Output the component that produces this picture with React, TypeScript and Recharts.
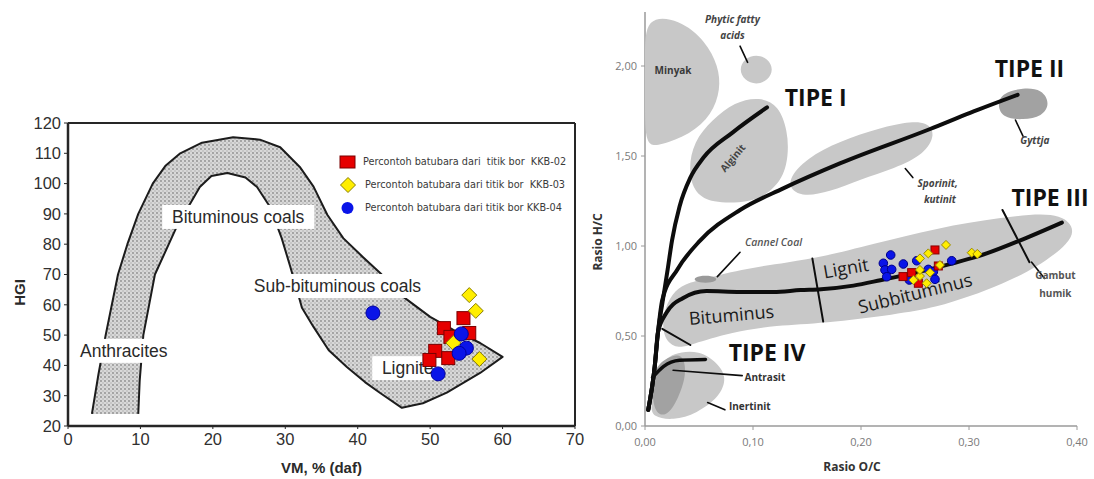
import React from 'react'
import { ScatterChart, Scatter, XAxis, YAxis, ReferenceLine, Legend, Label, Curve } from 'recharts'

// ---------------- left panel: HGI vs VM ----------------
const VM_TICKS = [0, 10, 20, 30, 40, 50, 60, 70]
const HGI_TICKS = [20, 30, 40, 50, 60, 70, 80, 90, 100, 110, 120]

// outline of the coal-rank band (outer edge, bottom edge, inner edge)
const COAL_BAND = [
  { vm: 3.3, hgi: 24 }, { vm: 4.2, hgi: 37 }, { vm: 5.2, hgi: 50 }, { vm: 6.9, hgi: 70 },
  { vm: 8.2, hgi: 80 }, { vm: 9.7, hgi: 90 }, { vm: 11.7, hgi: 100 }, { vm: 13.5, hgi: 106 },
  { vm: 15.5, hgi: 110 }, { vm: 18.5, hgi: 113.5 }, { vm: 22.8, hgi: 115.3 }, { vm: 26.5, hgi: 114.5 },
  { vm: 29.3, hgi: 112 }, { vm: 32, hgi: 105.5 }, { vm: 33.9, hgi: 99 }, { vm: 35.8, hgi: 89.7 },
  { vm: 38, hgi: 82 }, { vm: 40.7, hgi: 75.8 }, { vm: 43.1, hgi: 70.5 }, { vm: 46.3, hgi: 62.6 },
  { vm: 50, hgi: 56 }, { vm: 53.2, hgi: 51.7 }, { vm: 56.9, hgi: 47.4 }, { vm: 60, hgi: 42.8 },
  { vm: 56.9, hgi: 37.5 }, { vm: 52.3, hgi: 31 }, { vm: 49, hgi: 27.5 }, { vm: 46.1, hgi: 26 },
  { vm: 43.1, hgi: 30.9 }, { vm: 41, hgi: 34.5 }, { vm: 38.5, hgi: 39.5 }, { vm: 36, hgi: 45 },
  { vm: 33.9, hgi: 52.7 }, { vm: 32.3, hgi: 59 }, { vm: 31.6, hgi: 65 }, { vm: 30.7, hgi: 72.5 },
  { vm: 29.5, hgi: 82 }, { vm: 27.9, hgi: 92.3 }, { vm: 26.1, hgi: 98.9 }, { vm: 24.5, hgi: 102 },
  { vm: 22, hgi: 103.5 }, { vm: 19.8, hgi: 102.5 }, { vm: 18.2, hgi: 98.9 }, { vm: 15, hgi: 85.7 },
  { vm: 12, hgi: 70 }, { vm: 10.4, hgi: 50 }, { vm: 9.9, hgi: 35 }, { vm: 9.7, hgi: 24 },
]

const ZONE_LABELS = [
  { vm: 23.5, hgi: 89, text: 'Bituminous coals' },
  { vm: 37.2, hgi: 66.2, text: 'Sub-bituminous coals' },
  { vm: 7.7, hgi: 44.8, text: 'Anthracites' },
  { vm: 46.9, hgi: 39.1, text: 'Lignite' },
]

const SERIES_NAMES = [
  'Percontoh batubara dari  titik bor  KKB-02',
  'Percontoh batubara dari titik bor  KKB-03',
  'Percontoh batubara dari titik bor KKB-04',
]

const KKB02_HGI = [
  { vm: 54.6, hgi: 55.6 }, { vm: 51.9, hgi: 52.3 }, { vm: 55.4, hgi: 50.7 }, { vm: 52.8, hgi: 49.4 },
  { vm: 50.7, hgi: 44.8 }, { vm: 49.9, hgi: 41.8 }, { vm: 52.5, hgi: 42.4 },
]
const KKB03_HGI = [
  { vm: 55.4, hgi: 63.2 }, { vm: 56.3, hgi: 58 }, { vm: 53.2, hgi: 47.4 }, { vm: 56.8, hgi: 42.1 },
]
const KKB04_HGI = [
  { vm: 42.1, hgi: 57.3 }, { vm: 54.3, hgi: 50.4 }, { vm: 55, hgi: 45.7 }, { vm: 54, hgi: 44 },
  { vm: 51.1, hgi: 37.2 },
]

// ---------------- right panel: van Krevelen ----------------
const OC_TICKS = [0, 0.1, 0.2, 0.3, 0.4]
const HC_TICKS = [0, 0.5, 1, 1.5, 2]

const MINYAK = [
  { oc: 0, hc: 2.28 }, { oc: 0.032, hc: 2.26 }, { oc: 0.056, hc: 2.14 }, { oc: 0.068, hc: 2.0 },
  { oc: 0.07, hc: 1.87 }, { oc: 0.062, hc: 1.73 }, { oc: 0.042, hc: 1.62 }, { oc: 0.014, hc: 1.56 },
  { oc: 0, hc: 1.55 }, { oc: 0, hc: 1.8 }, { oc: 0, hc: 2.05 },
]
const PHYTIC = [
  { oc: 0.119, hc: 1.98 }, { oc: 0.114, hc: 2.04 }, { oc: 0.103, hc: 2.065 }, { oc: 0.092, hc: 2.04 },
  { oc: 0.087, hc: 1.98 }, { oc: 0.092, hc: 1.92 }, { oc: 0.103, hc: 1.895 }, { oc: 0.114, hc: 1.92 },
]
const ALGINIT = [
  { oc: 0.062, hc: 1.7 }, { oc: 0.083, hc: 1.8 }, { oc: 0.106, hc: 1.83 }, { oc: 0.124, hc: 1.78 },
  { oc: 0.132, hc: 1.64 }, { oc: 0.133, hc: 1.5 }, { oc: 0.127, hc: 1.36 }, { oc: 0.107, hc: 1.26 },
  { oc: 0.088, hc: 1.24 }, { oc: 0.063, hc: 1.24 }, { oc: 0.046, hc: 1.29 }, { oc: 0.04, hc: 1.42 },
  { oc: 0.045, hc: 1.58 },
]
const SPORINIT = [
  { oc: 0.13, hc: 1.34 }, { oc: 0.144, hc: 1.46 }, { oc: 0.171, hc: 1.56 }, { oc: 0.208, hc: 1.64 },
  { oc: 0.241, hc: 1.69 }, { oc: 0.262, hc: 1.69 }, { oc: 0.269, hc: 1.62 }, { oc: 0.259, hc: 1.51 },
  { oc: 0.231, hc: 1.43 }, { oc: 0.199, hc: 1.37 }, { oc: 0.171, hc: 1.3 }, { oc: 0.144, hc: 1.27 },
]
const GYTTJA = [
  { oc: 0.326, hc: 1.79 }, { oc: 0.331, hc: 1.85 }, { oc: 0.35, hc: 1.88 }, { oc: 0.368, hc: 1.87 },
  { oc: 0.375, hc: 1.79 }, { oc: 0.368, hc: 1.72 }, { oc: 0.35, hc: 1.7 }, { oc: 0.331, hc: 1.71 },
]
const HUMIC_BAND = [
  { oc: 0.051, hc: 0.81 }, { oc: 0.088, hc: 0.87 }, { oc: 0.134, hc: 0.91 }, { oc: 0.165, hc: 0.94 },
  { oc: 0.211, hc: 1.01 }, { oc: 0.27, hc: 1.1 }, { oc: 0.331, hc: 1.16 }, { oc: 0.381, hc: 1.19 },
  { oc: 0.398, hc: 1.11 }, { oc: 0.394, hc: 1.02 }, { oc: 0.363, hc: 0.88 }, { oc: 0.331, hc: 0.79 },
  { oc: 0.301, hc: 0.72 }, { oc: 0.27, hc: 0.66 }, { oc: 0.233, hc: 0.62 }, { oc: 0.165, hc: 0.57 },
  { oc: 0.122, hc: 0.56 }, { oc: 0.079, hc: 0.52 }, { oc: 0.042, hc: 0.45 }, { oc: 0.03, hc: 0.43 },
  { oc: 0.017, hc: 0.48 }, { oc: 0.016, hc: 0.62 }, { oc: 0.025, hc: 0.74 }, { oc: 0.037, hc: 0.79 },
]
const TIPE_IV_ZONE = [
  { oc: 0.005, hc: 0.11 }, { oc: 0.011, hc: 0.33 }, { oc: 0.026, hc: 0.41 }, { oc: 0.051, hc: 0.42 },
  { oc: 0.067, hc: 0.35 }, { oc: 0.076, hc: 0.27 }, { oc: 0.069, hc: 0.16 }, { oc: 0.048, hc: 0.07 },
  { oc: 0.026, hc: 0.03 }, { oc: 0.007, hc: 0.05 },
]
const ANTRASIT_ZONE = [
  { oc: 0.006, hc: 0.31 }, { oc: 0.02, hc: 0.38 }, { oc: 0.035, hc: 0.41 }, { oc: 0.039, hc: 0.29 },
  { oc: 0.03, hc: 0.14 }, { oc: 0.02, hc: 0.05 }, { oc: 0.007, hc: 0.07 },
]
const CANNEL = [
  { oc: 0.068, hc: 0.815 }, { oc: 0.062, hc: 0.835 }, { oc: 0.05, hc: 0.835 }, { oc: 0.044, hc: 0.815 },
  { oc: 0.05, hc: 0.795 }, { oc: 0.062, hc: 0.795 },
]

const TIPE_I = [
  { oc: 0.003, hc: 0.09 }, { oc: 0.009, hc: 0.33 }, { oc: 0.012, hc: 0.52 }, { oc: 0.016, hc: 0.68 },
  { oc: 0.021, hc: 0.87 }, { oc: 0.025, hc: 1.03 }, { oc: 0.032, hc: 1.22 }, { oc: 0.042, hc: 1.38 },
  { oc: 0.054, hc: 1.49 }, { oc: 0.081, hc: 1.63 }, { oc: 0.113, hc: 1.77 },
]
const TIPE_II = [
  { oc: 0.003, hc: 0.09 }, { oc: 0.009, hc: 0.33 }, { oc: 0.012, hc: 0.52 }, { oc: 0.016, hc: 0.7 },
  { oc: 0.03, hc: 0.87 }, { oc: 0.051, hc: 1.03 }, { oc: 0.088, hc: 1.2 }, { oc: 0.128, hc: 1.32 },
  { oc: 0.181, hc: 1.46 }, { oc: 0.264, hc: 1.65 }, { oc: 0.301, hc: 1.74 }, { oc: 0.345, hc: 1.84 },
]
const TIPE_III = [
  { oc: 0.003, hc: 0.09 }, { oc: 0.009, hc: 0.33 }, { oc: 0.012, hc: 0.52 }, { oc: 0.02, hc: 0.63 },
  { oc: 0.035, hc: 0.71 }, { oc: 0.057, hc: 0.75 }, { oc: 0.088, hc: 0.745 }, { oc: 0.119, hc: 0.745 },
  { oc: 0.144, hc: 0.755 }, { oc: 0.163, hc: 0.76 }, { oc: 0.193, hc: 0.78 }, { oc: 0.218, hc: 0.81 },
  { oc: 0.27, hc: 0.88 }, { oc: 0.317, hc: 0.96 }, { oc: 0.347, hc: 1.03 }, { oc: 0.386, hc: 1.13 },
]
const TIPE_IV = [
  { oc: 0.007, hc: 0.27 }, { oc: 0.017, hc: 0.33 }, { oc: 0.032, hc: 0.365 }, { oc: 0.056, hc: 0.37 },
]

const DIVIDERS = [
  [{ oc: 0.016, hc: 0.54 }, { oc: 0.042, hc: 0.45 }],
  [{ oc: 0.155, hc: 0.93 }, { oc: 0.165, hc: 0.58 }],
  [{ oc: 0.331, hc: 1.2 }, { oc: 0.356, hc: 0.91 }],
]
const POINTERS = [
  [{ oc: 0.088, hc: 2.11 }, { oc: 0.095, hc: 2.02 }],
  [{ oc: 0.088, hc: 0.965 }, { oc: 0.067, hc: 0.83 }],
  [{ oc: 0.026, hc: 0.31 }, { oc: 0.09, hc: 0.28 }],
  [{ oc: 0.058, hc: 0.13 }, { oc: 0.074, hc: 0.09 }],
  [{ oc: 0.343, hc: 1.7 }, { oc: 0.35, hc: 1.61 }],
  [{ oc: 0.241, hc: 1.43 }, { oc: 0.248, hc: 1.38 }],
  [{ oc: 0.358, hc: 0.91 }, { oc: 0.37, hc: 0.82 }],
]

const KREVELEN_LABELS = [
  { oc: 0.026, hc: 1.98, text: 'Minyak' },
  { oc: 0.081, hc: 2.26, text: 'Phytic fatty' },
  { oc: 0.081, hc: 2.17, text: 'acids' },
  { oc: 0.158, hc: 1.83, text: 'TIPE I' },
  { oc: 0.356, hc: 1.99, text: 'TIPE II' },
  { oc: 0.375, hc: 1.27, text: 'TIPE III' },
  { oc: 0.113, hc: 0.41, text: 'TIPE IV' },
  { oc: 0.081, hc: 1.49, text: 'Alginit' },
  { oc: 0.271, hc: 1.35, text: 'Sporinit,' },
  { oc: 0.273, hc: 1.26, text: 'kutinit' },
  { oc: 0.361, hc: 1.59, text: 'Gyttja' },
  { oc: 0.119, hc: 1.02, text: 'Cannel Coal' },
  { oc: 0.186, hc: 0.88, text: 'Lignit' },
  { oc: 0.08, hc: 0.62, text: 'Bituminus' },
  { oc: 0.25, hc: 0.74, text: 'Subbituminus' },
  { oc: 0.38, hc: 0.84, text: 'Gambut' },
  { oc: 0.38, hc: 0.74, text: 'humik' },
  { oc: 0.111, hc: 0.27, text: 'Antrasit' },
  { oc: 0.097, hc: 0.11, text: 'Inertinit' },
]

const KKB02_VK = [
  { oc: 0.2685, hc: 0.978 }, { oc: 0.2469, hc: 0.852 }, { oc: 0.2531, hc: 0.793 },
  { oc: 0.2716, hc: 0.889 }, { oc: 0.2389, hc: 0.83 },
]
const KKB03_VK = [
  { oc: 0.2787, hc: 1.006 }, { oc: 0.2623, hc: 0.959 }, { oc: 0.2546, hc: 0.931 }, { oc: 0.3025, hc: 0.963 },
  { oc: 0.3077, hc: 0.956 }, { oc: 0.2485, hc: 0.811 }, { oc: 0.2546, hc: 0.833 }, { oc: 0.2639, hc: 0.852 },
  { oc: 0.2731, hc: 0.894 }, { oc: 0.2608, hc: 0.793 }, { oc: 0.2546, hc: 0.867 },
]
const KKB04_VK = [
  { oc: 0.2275, hc: 0.95 }, { oc: 0.2207, hc: 0.904 }, { oc: 0.2222, hc: 0.867 }, { oc: 0.2284, hc: 0.87 },
  { oc: 0.2392, hc: 0.9 }, { oc: 0.2238, hc: 0.829 }, { oc: 0.2516, hc: 0.918 }, { oc: 0.2448, hc: 0.811 },
  { oc: 0.2623, hc: 0.87 }, { oc: 0.267, hc: 0.857 }, { oc: 0.2685, hc: 0.815 }, { oc: 0.284, hc: 0.918 },
]

// ---------------- styling ----------------
const LEFT_FONT = '"Liberation Sans", Arial, sans-serif'
const NARROW_FONT = '"Liberation Sans Narrow", "DejaVu Sans Condensed", sans-serif'
const RIGHT_FONT = '"Open Sans", "Noto Sans", sans-serif'
const ZONE_GRAY = '#c8c8c8'
const ZONE_DARK = '#a2a2a2'

const RED = '#e60000'
const YELLOW = '#ffee00'
const BLUE = '#0a14e8'

type LabelStyle = { size: number; weight?: number; italic?: boolean; angle?: number; color?: string }
const VK_LABEL_STYLE: Record<string, LabelStyle> = {
  Minyak: { size: 10, weight: 700, color: '#3a3a3a' },
  'Phytic fatty': { size: 10, weight: 700, italic: true, color: '#444' },
  acids: { size: 10, weight: 700, italic: true, color: '#444' },
  'TIPE I': { size: 23, weight: 700, color: '#111' },
  'TIPE II': { size: 23, weight: 700, color: '#111' },
  'TIPE III': { size: 23, weight: 700, color: '#111' },
  'TIPE IV': { size: 23, weight: 700, color: '#111' },
  Alginit: { size: 10, weight: 700, angle: -50, color: '#444' },
  'Sporinit,': { size: 10, weight: 700, italic: true, color: '#444' },
  kutinit: { size: 10, weight: 700, italic: true, color: '#444' },
  Gyttja: { size: 10, weight: 700, italic: true, color: '#444' },
  'Cannel Coal': { size: 10.5, weight: 600, italic: true, color: '#555' },
  Lignit: { size: 18, angle: -10, color: '#1a1a1a' },
  Bituminus: { size: 18, angle: -5, color: '#1a1a1a' },
  Subbituminus: { size: 18, angle: -14, color: '#1a1a1a' },
  Gambut: { size: 10, weight: 700, color: '#555' },
  humik: { size: 10, weight: 700, color: '#555' },
  Antrasit: { size: 10, weight: 700, color: '#333' },
  Inertinit: { size: 10, weight: 700, color: '#333' },
}

const noMarker = () => <g />

const squareMarker = (size: number, fill: string, stroke: string) => (p: any) => (
  <rect x={p.cx - size / 2} y={p.cy - size / 2} width={size} height={size} fill={fill} stroke={stroke} strokeWidth={1} />
)
const diamondMarker = (size: number, fill: string, stroke: string) => (p: any) => {
  const h = size / 2
  return (
    <polygon
      points={`${p.cx},${p.cy - h} ${p.cx + h},${p.cy} ${p.cx},${p.cy + h} ${p.cx - h},${p.cy}`}
      fill={fill}
      stroke={stroke}
      strokeWidth={1}
    />
  )
}
const circleMarker = (r: number, fill: string, stroke: string) => (p: any) => (
  <circle cx={p.cx} cy={p.cy} r={r} fill={fill} stroke={stroke} strokeWidth={1} />
)

// stippled band; outline left open along the flat bottom of the anthracite leg
function BandShape({ points }: any) {
  return (
    <g>
      <defs>
        <pattern id="stipple" width="4" height="4" patternUnits="userSpaceOnUse">
          <rect width="4" height="4" fill="#d8d8d8" />
          <circle cx="1" cy="1" r="0.9" fill="#8c8c8c" />
          <circle cx="3" cy="3" r="0.7" fill="#a6a6a6" />
        </pattern>
      </defs>
      <Curve points={points} type="linearClosed" fill="url(#stipple)" stroke="none" />
      <Curve points={points} type="linear" fill="none" stroke="#1c1c1c" strokeWidth={2} strokeLinejoin="round" />
    </g>
  )
}

function ZoneLabel(p: any) {
  const text: string = p.payload.text
  const w = text.length * 9 + 8
  return (
    <g>
      <rect x={p.cx - w / 2} y={p.cy - 12} width={w} height={24} fill="#fff" />
      <text x={p.cx} y={p.cy} textAnchor="middle" dominantBaseline="central" fontSize={17.5} fontFamily={LEFT_FONT} fill="#2a2a2a">
        {text}
      </text>
    </g>
  )
}

function VkLabel(p: any) {
  const text: string = p.payload.text
  const s = VK_LABEL_STYLE[text] ?? { size: 10 }
  return (
    <text
      x={p.cx}
      y={p.cy}
      textAnchor="middle"
      dominantBaseline="central"
      fontSize={s.size}
      fontWeight={s.weight ?? 400}
      fontStyle={s.italic ? 'italic' : 'normal'}
      fontFamily={RIGHT_FONT}
      fill={s.color ?? '#222'}
      transform={s.angle ? `rotate(${s.angle} ${p.cx} ${p.cy})` : undefined}
    >
      {text}
    </text>
  )
}

const xTitle = (text: string, dx: number, dy: number, style: any) => (props: any) => {
  const vb = props.viewBox ?? { x: 0, y: 0, width: 0, height: 0 }
  return (
    <text x={vb.x + vb.width / 2 + dx} y={vb.y + dy} textAnchor="middle" dominantBaseline="central" {...style}>
      {text}
    </text>
  )
}
const yTitle = (text: string, dx: number, dy: number, style: any) => (props: any) => {
  const vb = props.viewBox ?? { x: 0, y: 0, width: 0, height: 0 }
  const x = vb.x + dx
  const y = vb.y + vb.height / 2 + dy
  return (
    <text x={x} y={y} textAnchor="middle" dominantBaseline="central" transform={`rotate(-90 ${x} ${y})`} {...style}>
      {text}
    </text>
  )
}

function LegendBox() {
  const icons = [
    <rect key="s" x={3} y={5} width={15} height={12} fill={RED} stroke="#7a0000" />,
    <polygon key="d" points="11,3.5 18.5,11 11,18.5 3.5,11" fill={YELLOW} stroke="#8a7e00" />,
    <circle key="c" cx={10.5} cy={11} r={6} fill={BLUE} />,
  ]
  return (
    <div style={{ fontFamily: NARROW_FONT, fontSize: 10.8, color: '#3a3a3a' }}>
      {SERIES_NAMES.map((name, i) => (
        <div key={name} style={{ display: 'flex', alignItems: 'center', height: 23 }}>
          <svg width={24} height={22}>{icons[i]}</svg>
          <span style={{ whiteSpace: 'pre', marginLeft: i === 0 ? 2 : 4 }}>{name}</span>
        </div>
      ))}
    </div>
  )
}

function HgiChart() {
  const dark = '#262626'
  return (
    <ScatterChart width={600} height={479} margin={{ top: 123, right: 25, bottom: 23, left: 0 }}>
      <XAxis
        type="number"
        dataKey="vm"
        domain={[0, 70]}
        ticks={VM_TICKS}
        interval={0}
        height={30}
        tickSize={3}
        tickMargin={4}
        axisLine={{ stroke: dark, strokeWidth: 2.5 }}
        tickLine={{ stroke: dark }}
        tick={{ fill: '#303030', fontSize: 16.5, fontFamily: LEFT_FONT }}
      >
        <Label content={xTitle('VM, % (daf)', 0, 41, { fontSize: 15, fontWeight: 700, fontFamily: LEFT_FONT, fill: '#2a2a2a' })} />
      </XAxis>
      <YAxis
        type="number"
        dataKey="hgi"
        domain={[20, 120]}
        ticks={HGI_TICKS}
        interval={0}
        width={68}
        tickSize={4}
        tickMargin={3}
        axisLine={{ stroke: dark, strokeWidth: 2.5 }}
        tickLine={{ stroke: dark }}
        tick={{ fill: '#303030', fontSize: 16.5, fontFamily: LEFT_FONT }}
      >
        <Label content={yTitle('HGI', 19, 18, { fontSize: 15, fontWeight: 700, fontFamily: LEFT_FONT, fill: '#2a2a2a' })} />
      </YAxis>
      <ReferenceLine y={120} stroke={dark} strokeWidth={2} ifOverflow="visible" />
      <ReferenceLine x={70} stroke={dark} strokeWidth={2} ifOverflow="visible" />
      <Scatter data={COAL_BAND} shape={noMarker} line={(p: any) => <BandShape points={p.points} />} legendType="none" isAnimationActive={false} />
      <Scatter data={ZONE_LABELS} shape={ZoneLabel} legendType="none" isAnimationActive={false} />
      <Scatter name={SERIES_NAMES[0]} data={KKB02_HGI} shape={squareMarker(13, RED, '#7a0000')} isAnimationActive={false} />
      <Scatter name={SERIES_NAMES[1]} data={KKB03_HGI} shape={diamondMarker(15, YELLOW, '#8a7e00')} isAnimationActive={false} />
      <Scatter name={SERIES_NAMES[2]} data={KKB04_HGI} shape={circleMarker(7, BLUE, '#0000a0')} isAnimationActive={false} />
      <Legend
        layout="vertical"
        verticalAlign="middle"
        align="center"
        wrapperStyle={{ top: 150, left: 337, width: 250 }}
        content={() => <LegendBox />}
      />
    </ScatterChart>
  )
}

const zone = (key: string, data: any[], fill: string) => (
  <Scatter key={key} data={data} fill={fill} shape={noMarker} line={{ fill, stroke: 'none' }} lineJointType="basisClosed" legendType="none" isAnimationActive={false} />
)
const stroke = (key: string, data: any[], width: number, type: any) => (
  <Scatter
    key={key}
    data={data}
    shape={noMarker}
    line={{ stroke: '#0d0d0d', strokeWidth: width, fill: 'none', strokeLinecap: 'round' }}
    lineJointType={type}
    legendType="none"
    isAnimationActive={false}
  />
)

function KrevelenChart() {
  const fmt = (v: number) => v.toFixed(2).replace('.', ',')
  const axisGray = '#9a9a9a'
  return (
    <ScatterChart width={504} height={479} margin={{ top: 12, right: 17, bottom: 23, left: 0 }}>
      <XAxis
        type="number"
        dataKey="oc"
        domain={[0, 0.4]}
        ticks={OC_TICKS}
        interval={0}
        height={30}
        tickSize={4}
        tickMargin={8}
        tickFormatter={fmt}
        axisLine={{ stroke: axisGray, strokeWidth: 1.5 }}
        tickLine={{ stroke: axisGray }}
        tick={{ fill: '#7a7a7a', fontSize: 11, fontFamily: RIGHT_FONT }}
      >
        <Label content={xTitle('Rasio O/C', -9, 40, { fontSize: 12, fontWeight: 700, fontFamily: RIGHT_FONT, fill: '#333' })} />
      </XAxis>
      <YAxis
        type="number"
        dataKey="hc"
        domain={[0, 2.3]}
        ticks={HC_TICKS}
        interval={0}
        width={55}
        tickSize={4}
        tickMargin={4}
        tickFormatter={fmt}
        axisLine={{ stroke: axisGray, strokeWidth: 1.5 }}
        tickLine={{ stroke: axisGray }}
        tick={{ fill: '#7a7a7a', fontSize: 11, fontFamily: RIGHT_FONT }}
      >
        <Label content={yTitle('Rasio H/C', 7, 23, { fontSize: 12, fontWeight: 700, fontFamily: RIGHT_FONT, fill: '#333' })} />
      </YAxis>
      {zone('minyak', MINYAK, ZONE_GRAY)}
      {zone('phytic', PHYTIC, ZONE_GRAY)}
      {zone('alginit', ALGINIT, ZONE_GRAY)}
      {zone('sporinit', SPORINIT, ZONE_GRAY)}
      {zone('gyttja', GYTTJA, ZONE_DARK)}
      {zone('humic', HUMIC_BAND, ZONE_GRAY)}
      {zone('tipe4', TIPE_IV_ZONE, ZONE_GRAY)}
      {zone('antrasit', ANTRASIT_ZONE, ZONE_DARK)}
      {zone('cannel', CANNEL, '#9a9a9a')}
      {POINTERS.map((seg, i) => stroke(`ptr${i}`, seg, 1.6, 'linear'))}
      {stroke('t1', TIPE_I, 4, 'monotoneX')}
      {stroke('t2', TIPE_II, 4, 'monotoneX')}
      {stroke('t3', TIPE_III, 4, 'monotoneX')}
      {stroke('t4', TIPE_IV, 3.5, 'monotoneX')}
      {DIVIDERS.map((seg, i) => stroke(`div${i}`, seg, 2, 'linear'))}
      <Scatter data={KREVELEN_LABELS} shape={VkLabel} legendType="none" isAnimationActive={false} />
      <Scatter name="KKB-04" data={KKB04_VK} shape={circleMarker(4.3, BLUE, '#00008a')} isAnimationActive={false} />
      <Scatter name="KKB-02" data={KKB02_VK} shape={squareMarker(8, RED, '#8a0000')} isAnimationActive={false} />
      <Scatter name="KKB-03" data={KKB03_VK} shape={diamondMarker(9, YELLOW, '#9a8a00')} isAnimationActive={false} />
    </ScatterChart>
  )
}

export default function App() {
  return (
    <div style={{ position: 'absolute', left: 0, top: 0, width: 1094, height: 479, background: '#fff', overflow: 'hidden' }}>
      <div style={{ position: 'absolute', left: 0, top: 0 }}>
        <HgiChart />
      </div>
      <div style={{ position: 'absolute', left: 590, top: 0 }}>
        <KrevelenChart />
      </div>
    </div>
  )
}
